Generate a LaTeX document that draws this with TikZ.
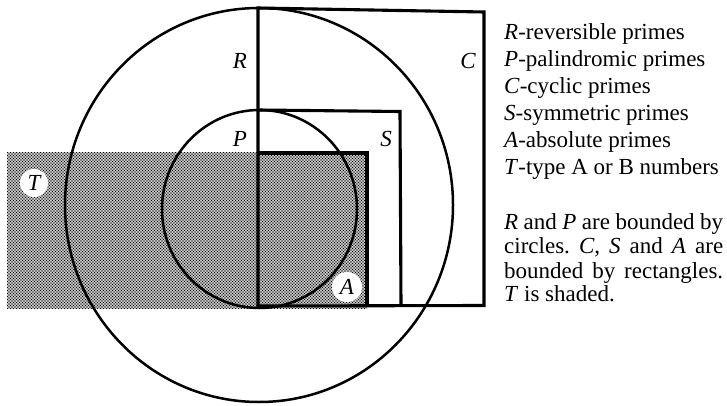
\documentclass[tikz,border=0pt]{standalone}
\usepackage{fontspec}
\setmainfont{Liberation Serif}
\usetikzlibrary{patterns}
\pgfdeclarepatternformonly{bookdots}{\pgfqpoint{-1pt}{-1pt}}{\pgfqpoint{4pt}{4pt}}{\pgfqpoint{3pt}{3pt}}{%
  \pgfpathcircle{\pgfqpoint{0pt}{0pt}}{.85pt}%
  \pgfpathcircle{\pgfqpoint{1.5pt}{1.5pt}}{.85pt}%
  \pgfusepath{fill}}
\begin{document}
\frenchspacing
\begin{tikzpicture}[x=1pt,y=-1pt,
  edge/.style={line width=3.1pt, line join=miter, line cap=butt},
  ring/.style={line width=2.5pt},
  lab/.style={font=\fontsize{23}{26}\selectfont\itshape, inner sep=0pt},
  blob/.style={circle, fill=white, inner sep=0pt},
  legend/.style={font=\fontsize{23}{26}\selectfont, anchor=base west, inner sep=0pt}]
\useasboundingbox (0,0) rectangle (727,406);
% shaded set T
\fill[pattern=bookdots] (7,153) rectangle (367,308);
\node[lab, blob, minimum size=28pt] (T) at (34,183) {T};
\node[lab, blob, minimum size=30pt] (A) at (347,287) {A};
% circles R and P
\draw[ring] (259,205) ellipse [x radius=194pt, y radius=197pt];
\draw[ring] (259.5,209) ellipse [x radius=97.5pt, y radius=99pt];
% rectangles C, S, A
\coordinate (ctl) at (258,8);
\coordinate (ctr) at (484,12);
\coordinate (cbr) at (484,305.5);
\coordinate (cbl) at (258,306);
\coordinate (vbot) at (258,308);
\coordinate (stl) at (258,110);
\coordinate (str) at (400,111.5);
\coordinate (sbr) at (401,305.5);
\coordinate (atl) at (258,153);
\coordinate (atr) at (367,153);
\coordinate (abr) at (367,305.5);
\draw[edge] (vbot) -- (ctl) -- (ctr) -- (cbr) -- (cbl);
\draw[edge] (stl) -- (str) -- (sbr);
\draw[edge] (atl) -- (atr) -- (abr);
% labels
\node[lab] (R) at (240,61) {R};
\node[lab] (C) at (468,61) {C};
\node[lab] (P) at (240,139) {P};
\node[lab] (S) at (386,139) {S};
% legend
\node[legend] (l1) at (504,40) {\textit{R}-reversible primes};
\node[legend] (l2) at (504,67) {\textit{P}-palindromic primes};
\node[legend] (l3) at (504,94) {\textit{C}-cyclic primes};
\node[legend] (l4) at (504,121) {\textit{S}-symmetric primes};
\node[legend] (l5) at (504,148) {\textit{A}-absolute primes};
\node[legend] (l6) at (504,174) {\textit{T}-type A or B numbers};
\node[legend] (n1) at (504,229) {\makebox[219pt][s]{\textit{R} and \textit{P} are bounded by}};
\node[legend] (n2) at (504,253) {\makebox[219pt][s]{circles. \textit{C}, \textit{S} and \textit{A} are}};
\node[legend] (n3) at (504,278) {\makebox[219pt][s]{bounded by rectangles.}};
\node[legend] (n4) at (504,301) {\textit{T} is shaded.};
\end{tikzpicture}
\end{document}
